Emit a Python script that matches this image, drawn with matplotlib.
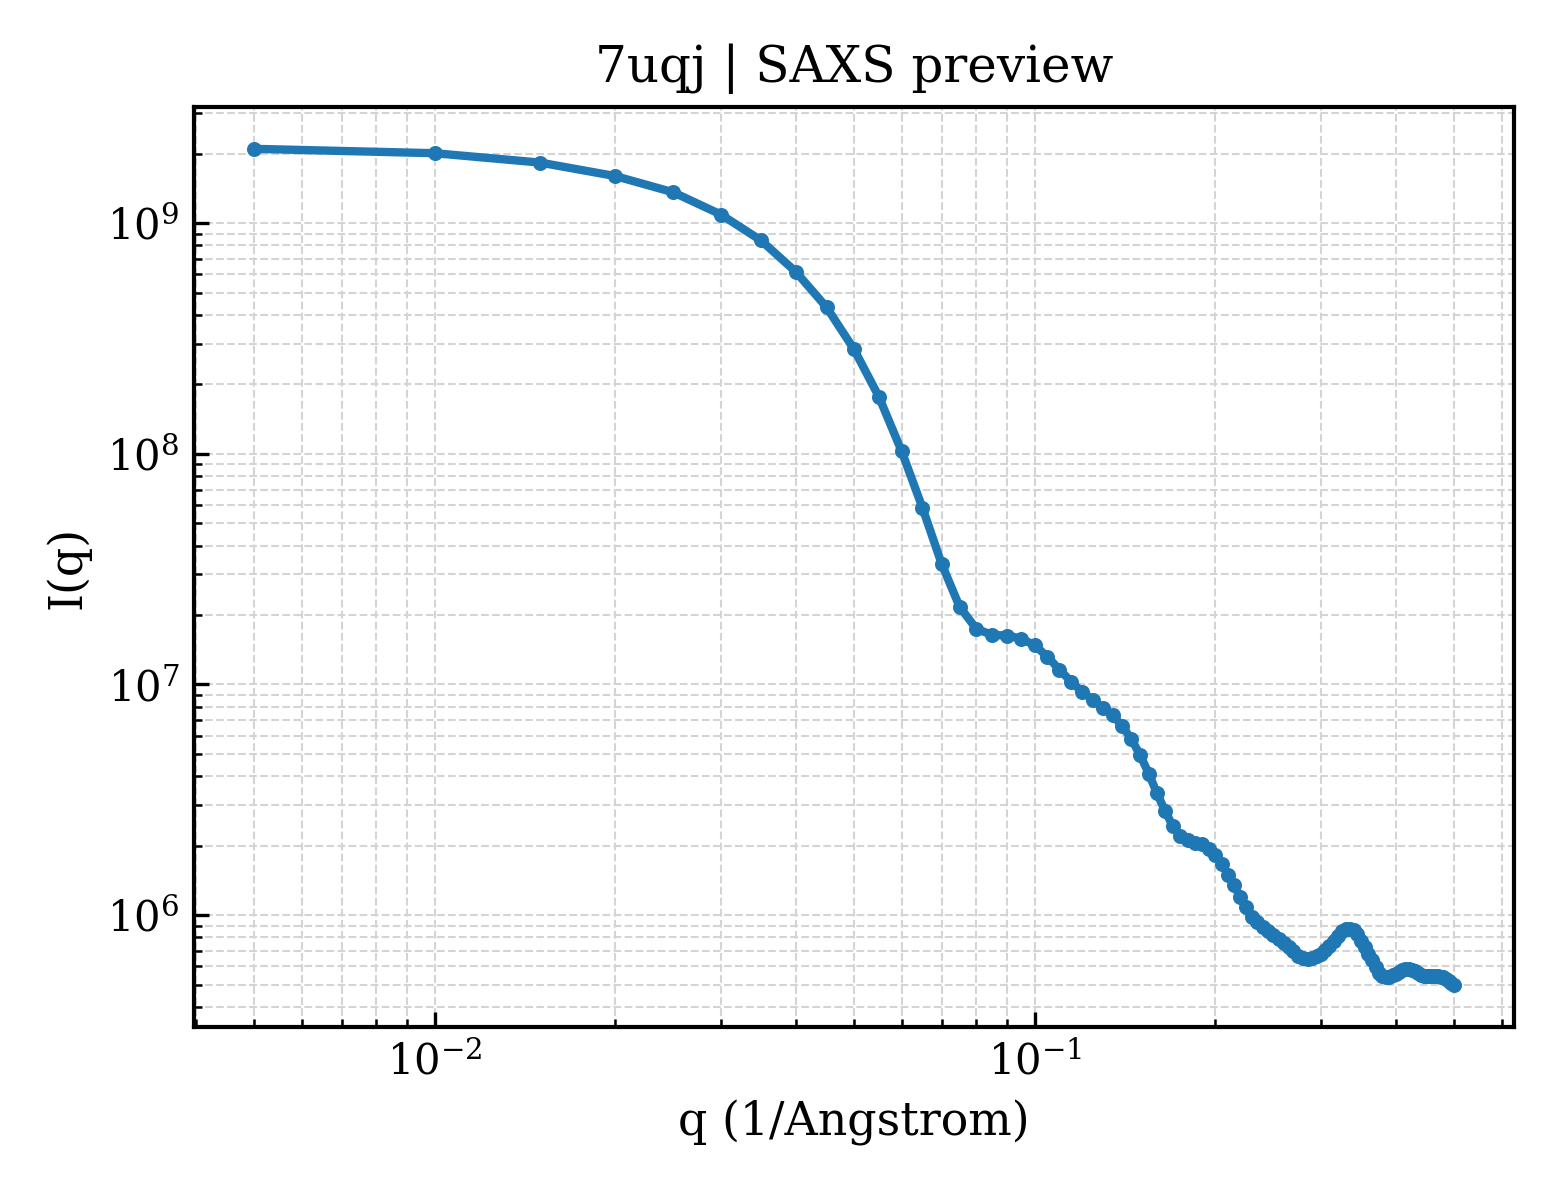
import matplotlib
matplotlib.use("Agg")
import matplotlib.pyplot as plt

q = [0.005, 0.010, 0.015, 0.020, 0.025, 0.030, 0.035, 0.040, 0.045, 0.050,
     0.055, 0.060, 0.065, 0.070, 0.075, 0.080, 0.085, 0.090, 0.095, 0.100,
     0.105, 0.110, 0.115, 0.120, 0.125, 0.130, 0.135, 0.140, 0.145, 0.150,
     0.155, 0.160, 0.165, 0.170, 0.175, 0.180, 0.185, 0.190, 0.195, 0.200,
     0.205, 0.210, 0.215, 0.220, 0.225, 0.230, 0.235, 0.240, 0.245, 0.250,
     0.255, 0.260, 0.265, 0.270, 0.275, 0.280, 0.285, 0.290, 0.295, 0.300,
     0.305, 0.310, 0.315, 0.320, 0.325, 0.330, 0.335, 0.340, 0.345, 0.350,
     0.355, 0.360, 0.365, 0.370, 0.375, 0.380, 0.385, 0.390, 0.395, 0.400,
     0.405, 0.410, 0.415, 0.420, 0.425, 0.430, 0.435, 0.440, 0.445, 0.450,
     0.455, 0.460, 0.465, 0.470, 0.475, 0.480, 0.485, 0.490, 0.495, 0.500]

intensity = [2.10e9, 2.01e9, 1.83e9, 1.60e9, 1.36e9, 1.09e9, 8.41e8, 6.15e8, 4.32e8, 2.84e8,
             1.77e8, 1.03e8, 5.85e7, 3.33e7, 2.17e7, 1.74e7, 1.64e7, 1.63e7, 1.58e7, 1.48e7,
             1.32e7, 1.16e7, 1.03e7, 9.29e6, 8.60e6, 7.90e6, 7.36e6, 6.59e6, 5.79e6, 4.93e6,
             4.10e6, 3.37e6, 2.83e6, 2.43e6, 2.20e6, 2.11e6, 2.06e6, 2.03e6, 1.94e6, 1.82e6,
             1.67e6, 1.50e6, 1.35e6, 1.20e6, 1.08e6, 9.80e5, 9.30e5, 8.90e5, 8.55e5, 8.20e5,
             7.90e5, 7.60e5, 7.30e5, 6.97e5, 6.65e5, 6.50e5, 6.45e5, 6.50e5, 6.62e5, 6.80e5,
             7.07e5, 7.38e5, 7.76e5, 8.16e5, 8.50e5, 8.70e5, 8.72e5, 8.62e5, 8.25e5, 7.76e5,
             7.26e5, 6.79e5, 6.36e5, 5.94e5, 5.60e5, 5.43e5, 5.38e5, 5.40e5, 5.48e5, 5.57e5,
             5.67e5, 5.78e5, 5.84e5, 5.84e5, 5.78e5, 5.71e5, 5.60e5, 5.52e5, 5.47e5, 5.43e5,
             5.42e5, 5.42e5, 5.42e5, 5.42e5, 5.40e5, 5.37e5, 5.29e5, 5.20e5, 5.10e5, 4.97e5]

title = "7uqj | SAXS preview"
xlabel = "q (1/Angstrom)"
ylabel = "I(q)"

plt.rcParams['font.family'] = ['DejaVu Serif']
plt.rcParams['mathtext.fontset'] = 'dejavuserif'

fig, ax = plt.subplots(figsize=(5.2, 4.0), dpi=300)
fig.subplots_adjust(left=194/1560, right=1514/1560, top=1-107/1200, bottom=1-1027/1200)

ax.plot(q, intensity, color='#1f77b4', linewidth=2.0, marker='o', markersize=2.6)
ax.set_xscale('log')
ax.set_yscale('log')

ax.grid(True, which='both', linestyle='--', linewidth=0.5, color='#d4d4d4')
ax.set_axisbelow(True)
ax.tick_params(which='both', direction='in', labelsize=10)
for s in ax.spines.values():
    s.set_linewidth(1.0)

ax.set_title(title, fontsize=12)
ax.set_xlabel(xlabel, fontsize=11)
ax.set_ylabel(ylabel, fontsize=11)

fig.savefig("out.png", dpi=300)
